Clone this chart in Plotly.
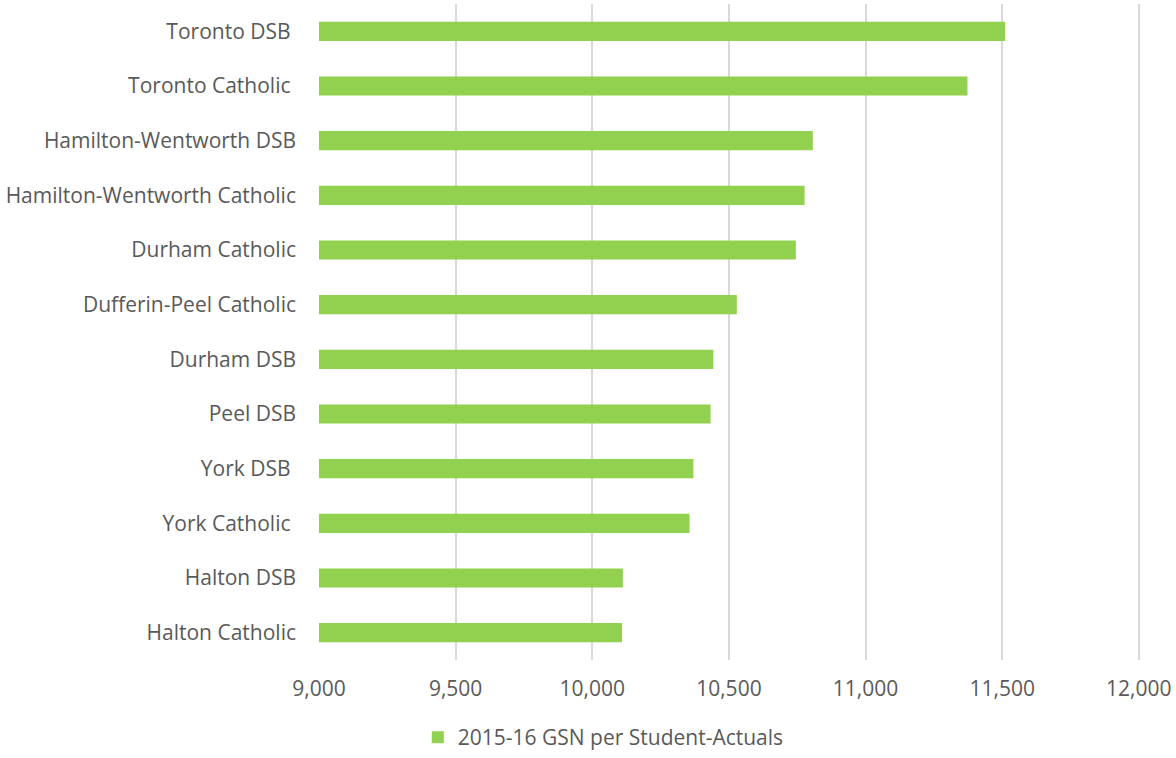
import plotly.graph_objects as go

categories = ["Toronto DSB\u00a0", "Toronto Catholic\u00a0", "Hamilton-Wentworth DSB",
              "Hamilton-Wentworth Catholic", "Durham Catholic", "Dufferin-Peel Catholic",
              "Durham DSB", "Peel DSB", "York DSB\u00a0", "York Catholic\u00a0",
              "Halton DSB", "Halton Catholic"]
values = [11511, 11373, 10807, 10777, 10745, 10529, 10443, 10433, 10370, 10356, 10112, 10109]
tick_vals = [9000, 9500, 10000, 10500, 11000, 11500, 12000]
tick_text = ["9,000", "9,500", "10,000", "10,500", "11,000", "11,500", "12,000"]
series_name = "2015-16 GSN per Student-Actuals"

font_family = "'Open Sans', sans-serif"
grey = "#595959"
fs = 21

fig = go.Figure()
fig.add_trace(go.Bar(
    y=categories, x=values, orientation="h", name=series_name,
    marker=dict(color="#92D050", line=dict(width=0)),
    width=0.35,
))

fig.update_layout(
    width=1176, height=758,
    margin=dict(l=319, r=27, t=4, b=98),
    paper_bgcolor="white", plot_bgcolor="white",
    font=dict(family=font_family, color=grey, size=fs),
    showlegend=True,
    legend=dict(orientation="h", xref="container", yref="container",
                x=0.513, xanchor="center", y=-0.012, yanchor="bottom",
                font=dict(size=fs, color=grey, family=font_family)),
)
fig.update_xaxes(range=[9000, 12008], tickvals=tick_vals, ticktext=tick_text,
                 showgrid=True, gridcolor="#D9D9D9", gridwidth=1.5,
                 zeroline=False, showline=False, ticks="", ticklabelstandoff=14,
                 ticklabeloverflow="allow",
                 tickfont=dict(size=fs, color=grey, family=font_family))
fig.update_yaxes(categoryorder="array", categoryarray=categories, autorange="reversed",
                 showgrid=False, showline=False, ticks="", ticklabelstandoff=22,
                 tickfont=dict(size=fs, color=grey, family=font_family))

fig.write_html("out.html")
